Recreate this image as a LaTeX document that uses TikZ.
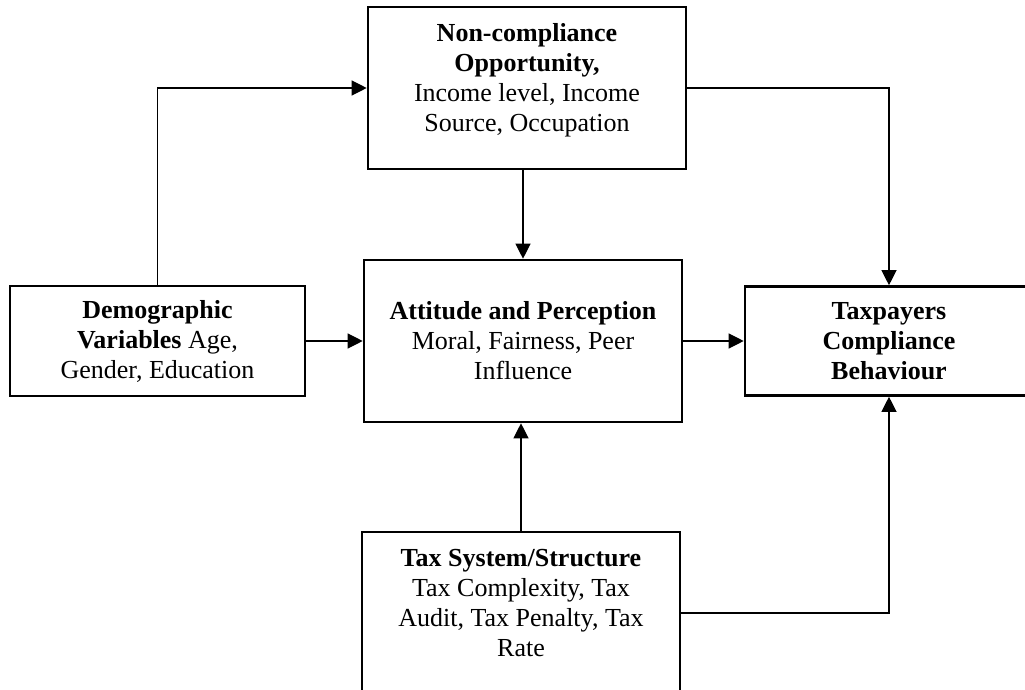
\documentclass[tikz,border=0pt]{standalone}
\usepackage{fontspec}
\setmainfont{Liberation Serif}
\usetikzlibrary{arrows.meta}
\begin{document}
\begin{tikzpicture}[x=0.5pt,y=-0.5pt,>={Triangle[length=7.5pt,width=7.5pt]}, font=\fontsize{13}{15}\selectfont,
	box/.style={draw,line width=1.3pt,align=flush center,inner sep=0pt},
	topbox/.style={box,text width=150pt,minimum width=159pt,text height=17.5pt,text depth=63.5pt},
	link/.style={line width=0.6pt}]
	\useasboundingbox (0,0) rectangle (1025,690);
	% boxes
	\node[topbox] (opp) at (527,88) {\textbf{Non-compliance}\\\textbf{Opportunity,}\\Income level, Income\\Source, Occupation};
	\node[box,text width=150pt,minimum width=159pt,minimum height=81pt] (att) at (523,341) {\textbf{Attitude and Perception}\\Moral, Fairness, Peer\\Influence};
	\node[box,text width=140pt,minimum width=147.5pt,minimum height=55pt] (demo) at (157.5,341) {\textbf{Demographic}\\\textbf{Variables} Age,\\Gender, Education};
	\node[box,text width=136pt,minimum width=144pt,minimum height=54.5pt] (tcb) at (889,341) {\textbf{Taxpayers}\\\textbf{Compliance}\\\textbf{Behaviour}};
	\node[topbox] (tax) at (521,613) {\textbf{Tax System/Structure}\\Tax Complexity, Tax\\Audit, Tax Penalty, Tax\\Rate};
	% arrows
	\draw[link,->] (demo.north) |- (opp.west);
	\draw[link,->] (opp.east) -| (tcb.north);
	\draw[link,->] (att.north |- opp.south) -- (att.north);
	\draw[link,->] (demo) -- (att);
	\draw[link,->] (att) -- (tcb);
	\draw[link,->] (tax.north) -- (tax.north |- att.south);
	\draw[link,->] (tax.east) -| (tcb.south);
\end{tikzpicture}
\end{document}
